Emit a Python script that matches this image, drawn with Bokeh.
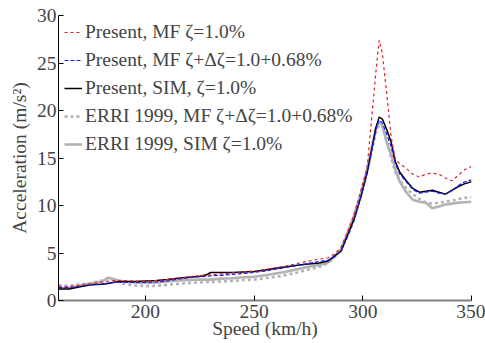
from bokeh.plotting import figure
from bokeh.models import FixedTicker, Range1d, Legend, LegendItem
from bokeh.embed import file_html
from bokeh.resources import INLINE

speed = [160, 165, 170, 175, 180, 183, 186, 190, 195, 200, 205, 210, 215, 220, 225, 228, 230,
         235, 240, 245, 250, 255, 260, 265, 270, 275, 280, 284, 287, 290, 293, 296, 299, 302,
         304, 306, 307.5, 309, 311, 313, 315, 317, 320, 323, 326, 329, 332, 335, 338, 341, 344,
         347, 350]

present_mf = [1.5, 1.45, 1.6, 1.75, 1.95, 2.05, 2.1, 2.1, 2.05, 2.05, 2.1, 2.2, 2.35, 2.5, 2.6,
              2.65, 2.7, 2.8, 2.9, 3.0, 3.1, 3.25, 3.45, 3.65, 3.9, 4.15, 4.35, 4.5, 4.9, 5.6,
              7.2, 9.0, 11.5, 14.0, 19.0, 24.0, 27.4, 26.0, 21.8, 17.3, 14.8, 14.4, 13.9, 13.3,
              13.0, 13.3, 13.4, 13.3, 12.9, 12.6, 13.2, 13.8, 14.1]

present_mf_dz = [1.35, 1.35, 1.5, 1.65, 1.75, 1.85, 1.9, 1.9, 1.9, 1.9, 1.95, 2.05, 2.25, 2.4,
                 2.5, 2.55, 2.6, 2.65, 2.75, 2.85, 2.95, 3.1, 3.3, 3.5, 3.7, 3.9, 4.1, 4.25, 4.6,
                 5.2, 6.7, 8.4, 10.8, 13.4, 15.7, 18.0, 19.0, 18.7, 17.5, 16.2, 14.4, 13.3, 12.5,
                 11.7, 11.3, 11.4, 11.5, 11.3, 11.2, 11.6, 12.1, 12.5, 12.7]

present_sim = [1.2, 1.2, 1.45, 1.65, 1.7, 1.8, 1.95, 2.0, 2.0, 2.05, 2.1, 2.2, 2.35, 2.45, 2.55,
               2.7, 2.95, 2.95, 2.95, 3.0, 3.05, 3.2, 3.4, 3.55, 3.7, 3.85, 3.95, 4.15, 4.7, 5.2,
               6.9, 8.6, 10.8, 13.5, 15.8, 18.2, 19.3, 19.1, 18.0, 16.7, 14.6, 13.5, 12.6, 11.8,
               11.4, 11.5, 11.6, 11.4, 11.2, 11.6, 12.0, 12.3, 12.5]

erri_mf = [1.6, 1.55, 1.7, 1.85, 2.1, 2.4, 2.1, 1.75, 1.6, 1.5, 1.55, 1.65, 1.75, 1.85, 1.9,
           1.95, 1.95, 2.0, 2.05, 2.15, 2.2, 2.35, 2.5, 2.7, 2.95, 3.25, 3.55, 3.9, 4.6, 5.5,
           7.0, 8.9, 11.0, 13.5, 15.6, 17.6, 18.5, 18.3, 16.8, 15.0, 13.5, 12.6, 11.8, 11.2,
           10.7, 10.3, 10.2, 10.3, 10.4, 10.5, 10.7, 10.8, 10.9]

erri_sim = [1.3, 1.35, 1.6, 1.8, 2.0, 2.4, 2.2, 2.0, 1.9, 1.85, 1.9, 2.0, 2.1, 2.15, 2.2, 2.2,
            2.2, 2.3, 2.35, 2.45, 2.5, 2.65, 2.85, 3.05, 3.3, 3.55, 3.75, 4.0, 4.6, 5.4, 7.1,
            9.0, 11.2, 13.8, 16.0, 18.1, 18.8, 18.4, 16.6, 15.4, 13.8, 12.5, 11.4, 10.6, 10.4,
            10.3, 9.7, 9.9, 10.1, 10.2, 10.3, 10.35, 10.4]

labels = ["Present, MF \u03b6=1.0%",
          "Present, MF \u03b6+\u0394\u03b6=1.0+0.68%",
          "Present, SIM, \u03b6=1.0%",
          "ERRI 1999, MF \u03b6+\u0394\u03b6=1.0+0.68%",
          "ERRI 1999, SIM \u03b6=1.0%"]

x_ticks = [200, 250, 300, 350]
y_ticks = [0, 5, 10, 15, 20, 25, 30]

FONT = "Liberation Serif"
FS = "19.5px"

p = figure(width=485, height=343, output_backend="svg", toolbar_location=None,
           x_range=Range1d(160, 350), y_range=Range1d(0, 30),
           min_border_left=58, min_border_right=14, min_border_top=15, min_border_bottom=43)
p.outline_line_color = None
p.xgrid.visible = False
p.ygrid.visible = False
p.background_fill_color = "white"
p.border_fill_color = "white"

r_es = p.line(speed, erri_sim, line_color="#b3b3b3", line_width=2.6)
r_em = p.line(speed, erri_mf, line_color="#b3b3b3", line_width=2.6, line_dash="3 3")
r_ps = p.line(speed, present_sim, line_color="black", line_width=1.5)
r_pd = p.line(speed, present_mf_dz, line_color="#1a1aff", line_width=1.2, line_dash="4 2")
r_pm = p.line(speed, present_mf, line_color="#e0202a", line_width=1.2, line_dash="3 3")

legend = Legend(items=[LegendItem(label=labels[0], renderers=[r_pm]),
                       LegendItem(label=labels[1], renderers=[r_pd]),
                       LegendItem(label=labels[2], renderers=[r_ps]),
                       LegendItem(label=labels[3], renderers=[r_em]),
                       LegendItem(label=labels[4], renderers=[r_es])],
                location="top_left")
legend.border_line_alpha = 0
legend.background_fill_alpha = 0
legend.label_text_font = FONT
legend.label_text_font_size = FS
legend.glyph_width = 18
legend.glyph_height = 20
legend.label_height = 20
legend.spacing = 6
legend.padding = 6
legend.margin = 0
legend.label_standoff = 3
p.add_layout(legend)

for ax in (p.xaxis[0], p.yaxis[0]):
    ax.major_label_text_font = FONT
    ax.major_label_text_font_size = FS
    ax.axis_label_text_font = FONT
    ax.axis_label_text_font_size = FS
    ax.axis_label_text_font_style = "normal"
    ax.major_tick_in = 5
    ax.major_tick_out = 0
    ax.minor_tick_line_color = None

p.xaxis.major_label_standoff = 4
p.yaxis.major_label_standoff = 2
p.xaxis.ticker = FixedTicker(ticks=x_ticks)
p.yaxis.ticker = FixedTicker(ticks=y_ticks)
p.xaxis.axis_label = "Speed (km/h)"
p.yaxis.axis_label = "Acceleration (m/s\u00b2)"
p.xaxis.axis_line_color = "#808080"
p.xaxis.axis_line_width = 2
p.xaxis.major_tick_line_color = "black"
p.yaxis.axis_line_color = "black"
p.xaxis.axis_label_standoff = -3
p.yaxis.axis_label_standoff = 4

open("out.html", "w").write(file_html(p, INLINE))
